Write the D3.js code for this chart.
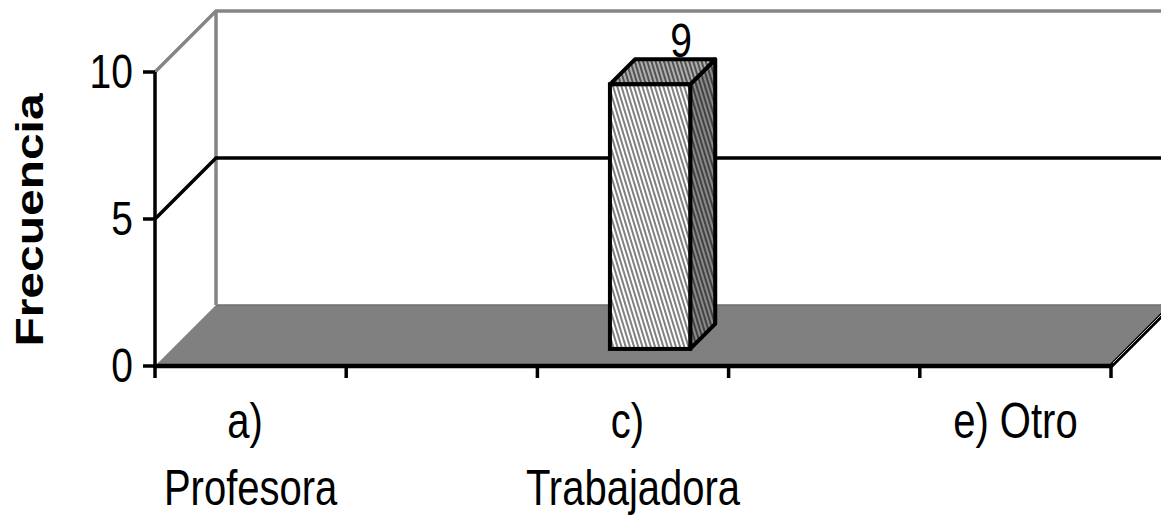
<!DOCTYPE html>
<html>
<head>
<meta charset="utf-8">
<script src="https://cdn.jsdelivr.net/npm/d3@7"></script>
<style>
  html, body { margin: 0; padding: 0; background: #fff; }
  svg text { font-family: "Liberation Sans", Arial, sans-serif; fill: #000; }
</style>
</head>
<body>
<div id="viz"></div>
<script>
// chart data
var categories = ["a) Profesora", "b)", "c) Trabajadora", "d)", "e) Otro"];
var values = [0, 0, 9, 0, 0];
var yTicks = [0, 5, 10];
var yTitle = "Frecuencia";

var width = 1161, height = 515
    , stretch = 1.23          // picture is a bit taller than wide
    , dep = {dx: 61, dy: -61} // 3d depth of the plot box
    , barDepth = [0.28, 0.69]; // where the bars sit inside that depth

var svg = d3.select('#viz').append('svg')
    .attr('width', width)
    .attr('height', height);

var x = d3.scaleBand()
    .domain(categories)
    .range([155, 1111])
    .paddingInner(0)
    .paddingOuter(0);

var y = d3.scaleLinear()
    .domain([0, 10])
    .range([366, 72]);

var x0 = x.range()[0], x1 = x.range()[1];
var y0 = y(0), yTop = y(10);

// hatch patterns for the bar faces
var defs = svg.append('defs');
function hatch(id, bg, line) {
    var p = defs.append('pattern')
        .attr('id', id)
        .attr('width', 4).attr('height', 4)
        .attr('patternUnits', 'userSpaceOnUse')
        .attr('patternTransform', 'rotate(-17)');
    p.append('rect').attr('width', 4).attr('height', 4).attr('fill', bg);
    p.append('line')
        .attr('x1', 1).attr('y1', 0).attr('x2', 1).attr('y2', 4)
        .attr('stroke', line).attr('stroke-width', 1.5);
}
hatch('hFront', '#ffffff', '#555555');
hatch('hTop', '#b0b0b0', '#333333');
hatch('hSide', '#8a8a8a', '#2a2a2a');

function pts(a) { return a.map(function(p) { return p.join(','); }).join(' '); }

var g = svg.append('g');

// floor
g.append('polygon')
    .attr('points', pts([[x0, y0], [x1, y0], [x1 + dep.dx, y0 + dep.dy], [x0 + dep.dx, y0 + dep.dy]]))
    .attr('fill', '#808080');
g.append('line')
    .attr('x1', x0 + dep.dx).attr('y1', y0 + dep.dy)
    .attr('x2', x1 + dep.dx).attr('y2', y0 + dep.dy)
    .attr('stroke', '#6e6e6e').attr('stroke-width', 1.5);

// back wall + side wall border (grey)
g.append('polyline')
    .attr('points', pts([[x0, yTop], [x0 + dep.dx, yTop + dep.dy], [x1 + dep.dx + 20, yTop + dep.dy]]))
    .attr('fill', 'none').attr('stroke', '#858585').attr('stroke-width', 3.5);
g.append('line')
    .attr('x1', x0 + dep.dx).attr('y1', yTop + dep.dy)
    .attr('x2', x0 + dep.dx).attr('y2', y0 + dep.dy)
    .attr('stroke', '#858585').attr('stroke-width', 3.5);

// grid lines (inner ticks only, the top one is the wall border)
yTicks.filter(function(t) { return t > 0 && t < 10; }).forEach(function(t) {
    g.append('polyline')
        .attr('points', pts([[x0, y(t)], [x0 + dep.dx, y(t) + dep.dy], [x1 + dep.dx + 20, y(t) + dep.dy]]))
        .attr('fill', 'none').attr('stroke', '#000').attr('stroke-width', 3.5);
});

// floor front and right edges
g.append('polyline')
    .attr('points', pts([[x0, y0], [x1, y0], [x1 + dep.dx, y0 + dep.dy]]))
    .attr('fill', 'none').attr('stroke', '#000').attr('stroke-width', 4.5);
g.append('line')
    .attr('x1', x1 + 2).attr('y1', y0 - 3)
    .attr('x2', x1 + dep.dx + 2).attr('y2', y0 + dep.dy - 3)
    .attr('stroke', '#c8c8c8').attr('stroke-width', 1);

// y axis line + ticks
g.append('line')
    .attr('x1', x0).attr('y1', yTop).attr('x2', x0).attr('y2', y0 + 2)
    .attr('stroke', '#000').attr('stroke-width', 3.5);
g.selectAll('.ytick').data(yTicks).enter().append('line')
    .attr('class', 'ytick')
    .attr('x1', x0 - 12).attr('x2', x0)
    .attr('y1', function(d) { return y(d); }).attr('y2', function(d) { return y(d); })
    .attr('stroke', '#000').attr('stroke-width', 3.5);
g.selectAll('.ylab').data(yTicks).enter().append('text')
    .attr('class', 'ylab')
    .attr('text-anchor', 'end')
    .attr('font-size', 39)
    .attr('transform', function(d) { return 'translate(' + (x0 - 22) + ',' + (y(d) + 16) + ') scale(1,' + stretch + ')'; })
    .text(function(d) { return d; });

// x ticks at category borders
var borders = categories.map(function(c) { return x(c); }).concat([x1]);
g.selectAll('.xtick').data(borders).enter().append('line')
    .attr('class', 'xtick')
    .attr('x1', function(d) { return d; }).attr('x2', function(d) { return d; })
    .attr('y1', y0).attr('y2', y0 + 12)
    .attr('stroke', '#000').attr('stroke-width', 3.5);

// category labels, every second one like the original
categories.forEach(function(c, i) {
    if (i % 2) return;
    var cx = x(c) + x.bandwidth() / 2;
    var words = c.split(' ');
    var lines = (words.length > 1 && c.length > 8) ? [words[0] + '\u00a0', words.slice(1).join(' ')] : [c];
    lines.forEach(function(l, k) {
        g.append('text')
            .attr('text-anchor', 'middle')
            .attr('font-size', 40)
            .attr('transform', 'translate(' + cx + ',' + (y0 + 72 + k * 67) + ') scale(1,' + stretch + ')')
            .text(l);
    });
});

// bars
var bw = x.bandwidth() * 0.42;
var f0 = barDepth[0], f1 = barDepth[1];
categories.forEach(function(c, i) {
    var v = values[i];
    if (!v) return;
    var bx = x(c) + (x.bandwidth() - bw) / 2 + dep.dx * f0;
    var by = y0 + dep.dy * f0;
    var ty = by - (y0 - y(v));
    var ddx = dep.dx * (f1 - f0), ddy = dep.dy * (f1 - f0);
    var bar = g.append('g');
    bar.append('polygon')
        .attr('points', pts([[bx + bw, ty], [bx + bw + ddx, ty + ddy], [bx + bw + ddx, by + ddy], [bx + bw, by]]))
        .attr('fill', 'url(#hSide)').attr('stroke', '#000').attr('stroke-width', 4).attr('stroke-linejoin', 'round');
    bar.append('polygon')
        .attr('points', pts([[bx, ty], [bx + ddx, ty + ddy], [bx + bw + ddx, ty + ddy], [bx + bw, ty]]))
        .attr('fill', 'url(#hTop)').attr('stroke', '#000').attr('stroke-width', 4).attr('stroke-linejoin', 'round');
    bar.append('rect')
        .attr('x', bx).attr('y', ty).attr('width', bw).attr('height', by - ty)
        .attr('fill', 'url(#hFront)').attr('stroke', '#000').attr('stroke-width', 4);
    g.append('text')
        .attr('text-anchor', 'middle')
        .attr('font-size', 39)
        .attr('transform', 'translate(' + (bx + bw / 2 + ddx + 6) + ',' + (ty + ddy - 2) + ') scale(1,' + stretch + ')')
        .text(v);
});

// y title
svg.append('text')
    .attr('text-anchor', 'middle')
    .attr('font-size', 39)
    .attr('font-weight', 'bold')
    .attr('transform', 'translate(43,220) rotate(-90) scale(' + stretch + ',1)')
    .text(yTitle);
</script>
</body>
</html>
